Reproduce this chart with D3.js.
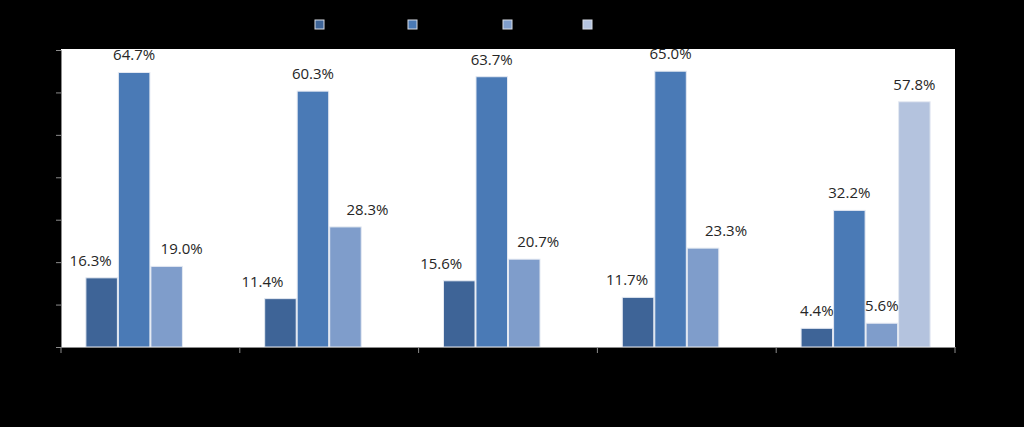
<!DOCTYPE html>
<html><head><meta charset="utf-8">
<script src="https://cdn.jsdelivr.net/npm/d3@7/dist/d3.min.js"></script>
<style>html,body{margin:0;padding:0;background:#000;}svg{display:block;}</style>
</head><body>
<script>
const categories = ["Category 1", "Category 2", "Category 3", "Category 4", "Category 5"];
const seriesNames = ["Series 1", "Series 2", "Series 3", "Series 4"];
const series1 = [16.3, 11.4, 15.6, 11.7, 4.4];
const series2 = [64.7, 60.3, 63.7, 65.0, 32.2];
const series3 = [19.0, 28.3, 20.7, 23.3, 5.6];
const series4 = [0, 0, 0, 0, 57.8];
const yTicks = [0, 10, 20, 30, 40, 50, 60, 70];
const colors = ["#3e6497", "#4a7ab6", "#7f9dcb", "#b4c3de"];

const W = 1024, H = 427;
const plot = {left: 61, right: 955, top: 50, bottom: 347};
const allSeries = [series1, series2, series3, series4];
// manual label nudges (layout, px) per category x series, as in the original
const labelNudge = [[-11, 0, 15, 0], [-18, 0, 22, 0], [-18, 0, 14, 0], [-11, 0, 23, 0], [0, 0, 0, 0]];

const svg = d3.select("body").append("svg").attr("width", W).attr("height", H);
svg.append("rect").attr("width", W).attr("height", H).attr("fill", "#000");
svg.append("rect").attr("x", plot.left).attr("y", plot.top - 1)
  .attr("width", plot.right - plot.left).attr("height", plot.bottom - plot.top + 1)
  .attr("fill", "#fff");

const x0 = d3.scaleBand().domain(categories).range([plot.left, plot.right]).padding(0);
const x1 = d3.scaleBand().domain(seriesNames).range([0, x0.bandwidth()]).paddingInner(0).paddingOuter(0.75);
const y = d3.scaleLinear().domain([0, 70]).range([plot.bottom, plot.top]);

const data = [];
categories.forEach((c, i) => seriesNames.forEach((s, j) => data.push({c, s, i, j, v: allSeries[j][i]})));

const bars = svg.append("g");
bars.selectAll("rect").data(data.filter(d => d.v > 0)).join("rect")
  .attr("x", d => x0(d.c) + x1(d.s) + 0.5)
  .attr("y", d => y(d.v))
  .attr("width", x1.bandwidth() - 1)
  .attr("height", d => y(0) - y(d.v))
  .attr("fill", d => colors[d.j])
  .attr("stroke", "#e4e9f2").attr("stroke-width", 1);

svg.append("g").selectAll("text").data(data.filter(d => d.v > 0)).join("text")
  .attr("x", d => x0(d.c) + x1(d.s) + x1.bandwidth() / 2 + labelNudge[d.i][d.j])
  .attr("y", d => y(d.v) - 12)
  .attr("text-anchor", "middle")
  .attr("font-family", "'Open Sans', sans-serif")
  .attr("font-size", 15)
  .attr("fill", "#262626")
  .text(d => d.v.toFixed(1) + "%");

// y axis
const yAxis = svg.append("g").attr("transform", `translate(${plot.left},0)`)
  .call(d3.axisLeft(y).tickValues(yTicks).tickSize(5).tickFormat(d => d + "%"));
yAxis.select(".domain").attr("stroke", "#8c8c8c");
yAxis.selectAll(".tick line").attr("stroke", "#8c8c8c");
yAxis.selectAll(".tick text").attr("fill", "#000").attr("font-family", "'Open Sans', sans-serif").attr("font-size", 13);

// x axis
const xAxis = svg.append("g").attr("transform", `translate(0,${plot.bottom})`)
  .call(d3.axisBottom(x0).tickSize(0).tickFormat(d => d));
xAxis.select(".domain").attr("stroke", "#8c8c8c");
xAxis.selectAll(".tick text").attr("fill", "#000").attr("dy", "1.2em").attr("font-family", "'Open Sans', sans-serif").attr("font-size", 13);
const bounds = categories.map(c => x0(c)).concat([plot.right]);
xAxis.selectAll("line.sep").data(bounds).join("line").attr("class", "sep")
  .attr("x1", d => d).attr("x2", d => d).attr("y1", 0).attr("y2", 6)
  .attr("stroke", "#8c8c8c");

// legend
const legendX = [315, 408, 503, 583];
const legend = svg.append("g");
seriesNames.forEach((s, j) => {
  legend.append("rect").attr("x", legendX[j]).attr("y", 20).attr("width", 9).attr("height", 9)
    .attr("fill", colors[j]).attr("stroke", "#d9dde6").attr("stroke-width", 1);
  legend.append("text").attr("x", legendX[j] + 14).attr("y", 29)
    .attr("font-family", "'Open Sans', sans-serif").attr("font-size", 13).attr("fill", "#000").text(s);
});
</script>
</body></html>
